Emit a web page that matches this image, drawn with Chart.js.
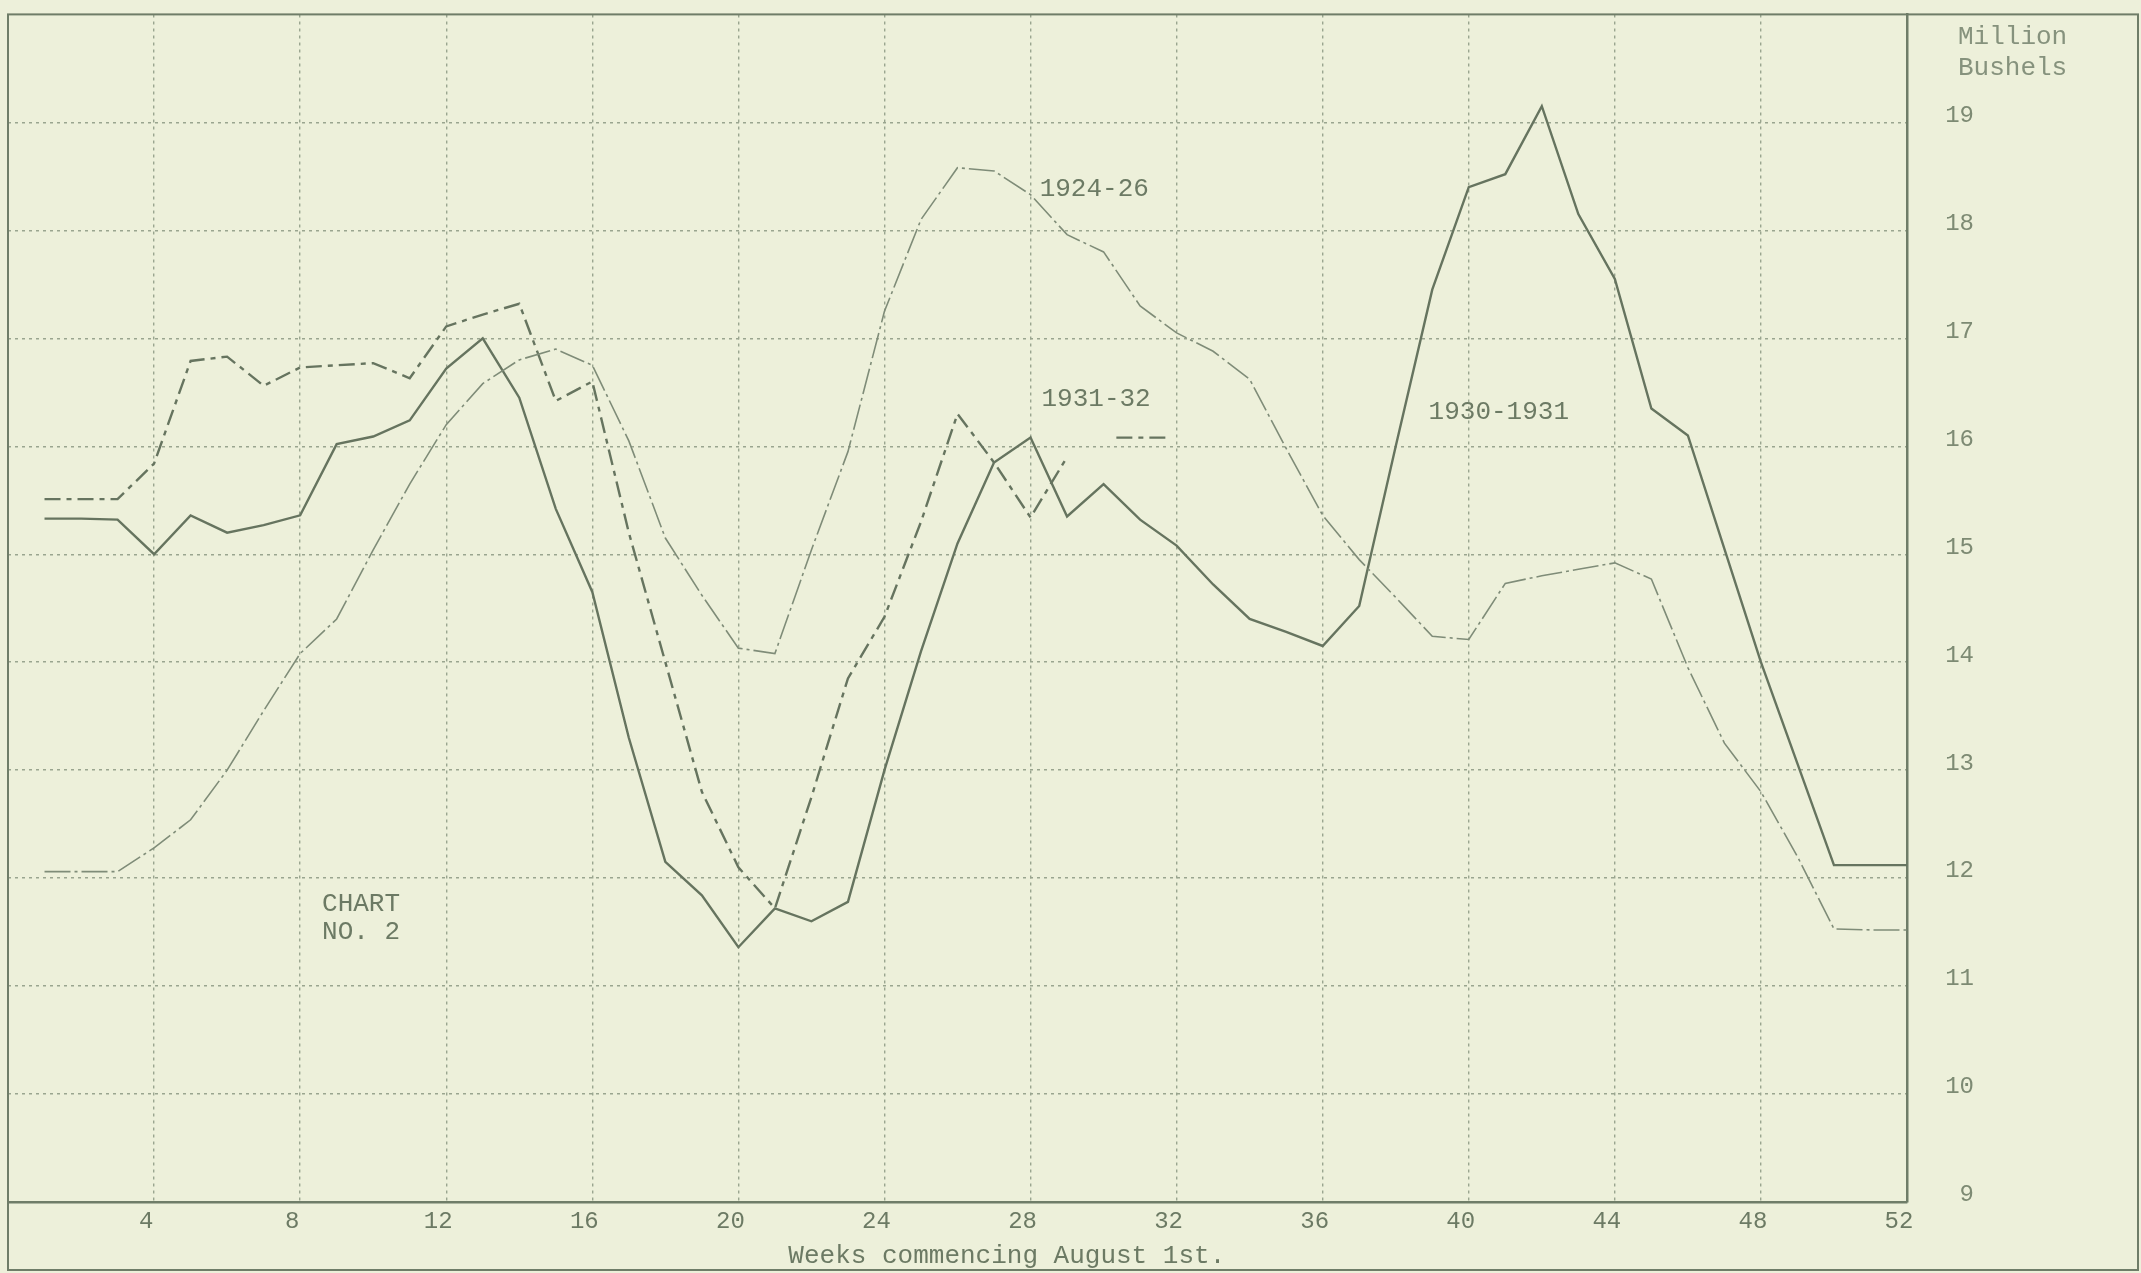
<!DOCTYPE html>
<html>
<head>
<meta charset="utf-8">
<title>Chart No. 2</title>
<script src="https://cdn.jsdelivr.net/npm/chart.js@4/dist/chart.umd.min.js"></script>
<style>
    html, body { margin: 0; padding: 0; background: #edf0da; }
    #wrap { width: 2141px; height: 1273px; }
</style>
</head>
<body>
<div id="wrap"><canvas id="bushelsChart" width="2141" height="1273"></canvas></div>
<script>
const weeks = [1, 2, 3, 4, 5, 6, 7, 8, 9, 10, 11, 12, 13, 14, 15, 16, 17, 18, 19, 20, 21, 22, 23, 24, 25, 26,
    27, 28, 29, 30, 31, 32, 33, 34, 35, 36, 37, 38, 39, 40, 41, 42, 43, 44, 45, 46, 47, 48, 49, 50, 51, 52];

const weekTicks = [4, 8, 12, 16, 20, 24, 28, 32, 36, 40, 44, 48, 52];
const bushelTicks = [9, 10, 11, 12, 13, 14, 15, 16, 17, 18, 19];

// million bushels, week by week
const avg1924to26 = [12.06, 12.06, 12.06, 12.28, 12.54, 13.0, 13.55, 14.08, 14.4, 15.04, 15.65, 16.2, 16.58,
    16.8, 16.9, 16.75, 16.05, 15.15, 14.62, 14.13, 14.08, 15.04, 15.95, 17.25, 18.1, 18.58, 18.55, 18.33,
    17.96, 17.8, 17.3, 17.05, 16.88, 16.62, 15.98, 15.36, 14.95, 14.6, 14.24, 14.21, 14.73, 14.8, 14.86,
    14.92, 14.77, 13.95, 13.25, 12.8, 12.2, 11.53, 11.52, 11.52];

const year1930to31 = [15.33, 15.33, 15.32, 15.0, 15.36, 15.2, 15.27, 15.36, 16.02, 16.09, 16.24, 16.72, 17.0,
    16.45, 15.42, 14.65, 13.3, 12.15, 11.84, 11.36, 11.72, 11.6, 11.78, 13.0, 14.1, 15.1, 15.85, 16.08,
    15.35, 15.65, 15.32, 15.08, 14.72, 14.4, 14.28, 14.15, 14.52, 16.0, 17.45, 18.4, 18.52, 19.15, 18.15,
    17.55, 16.35, 16.1, 15.05, 14.0, 13.06, 12.12, 12.12, 12.12];

const year1931to32 = [15.51, 15.51, 15.51, 15.84, 16.79, 16.83, 16.56, 16.73, 16.75, 16.77, 16.63, 17.11,
    17.22, 17.32, 16.42, 16.6, 15.2, 14.0, 12.8, 12.1, 11.72, 12.75, 13.85, 14.42, 15.3, 16.3, 15.85, 15.34,
    15.9];

const typewriter = "'Liberation Mono', 'DejaVu Sans Mono', monospace";
const ink = "#6c7a64";
const paper = "#edf0da";
const gridInk = "#9aa58f";
const frameInk = "#6f7d68";
const dash1931 = [16, 6, 5, 6];

function toPoints(values) {
    return weeks.map((w, i) => ({ x: w, y: values[i] ?? null }));
}

const paperNotes = {
    id: "paperNotes",
    beforeDraw(chart) {
        const ctx = chart.ctx;
        ctx.save();
        ctx.fillStyle = paper;
        ctx.fillRect(0, 0, chart.width, chart.height);
        ctx.restore();
    },
    afterDraw(chart) {
        const { ctx, chartArea: area, scales: { x, y } } = chart;
        ctx.save();

        ctx.strokeStyle = frameInk;
        ctx.lineWidth = 2;
        ctx.strokeRect(area.left, area.top, chart.width - 3 - area.left, chart.height - 3 - area.top);

        ctx.fillStyle = ink;
        ctx.textBaseline = "middle";
        ctx.font = "26px " + typewriter;
        ctx.fillText("1924-26", x.getPixelForValue(28.25), y.getPixelForValue(18.38));
        ctx.fillText("1931-32", x.getPixelForValue(28.3), y.getPixelForValue(16.44));
        ctx.fillText("1930-1931", x.getPixelForValue(38.9), y.getPixelForValue(16.32));
        ctx.fillText("CHART", x.getPixelForValue(8.6), y.getPixelForValue(11.76));
        ctx.fillText("NO. 2", x.getPixelForValue(8.6), y.getPixelForValue(11.5));

        // key stroke for 1931-32
        ctx.strokeStyle = "#66745f";
        ctx.lineWidth = 2.4;
        ctx.setLineDash(dash1931);
        ctx.beginPath();
        ctx.moveTo(x.getPixelForValue(30.35), y.getPixelForValue(16.08));
        ctx.lineTo(x.getPixelForValue(31.85), y.getPixelForValue(16.08));
        ctx.stroke();
        ctx.setLineDash([]);

        ctx.fillStyle = "#86927d";
        ctx.fillText("Million", area.right + 51, 37);
        ctx.fillText("Bushels", area.right + 51, 68);

        ctx.fillStyle = ink;
        ctx.textAlign = "center";
        ctx.fillText("Weeks commencing August 1st.", x.getPixelForValue(27.35), area.bottom + 54);
        ctx.restore();
    }
};

new Chart(document.getElementById("bushelsChart"), {
    type: "line",
    data: {
        datasets: [{
            label: "1924-26",
            data: toPoints(avg1924to26),
            borderColor: "#7f8c78",
            borderWidth: 1.6,
            borderDash: [26, 4, 3, 4]
        }, {
            label: "1930-1931",
            data: toPoints(year1930to31),
            borderColor: "#66745f",
            borderWidth: 2.4
        }, {
            label: "1931-32",
            data: toPoints(year1931to32),
            borderColor: "#66745f",
            borderWidth: 2.4,
            borderDash: dash1931
        }]
    },
    options: {
        responsive: false,
        animation: false,
        spanGaps: false,
        elements: {
            point: { radius: 0, hoverRadius: 0 },
            line: { tension: 0 }
        },
        layout: { padding: { left: 8, top: 7, right: 167, bottom: 0 } },
        plugins: {
            legend: { display: false },
            tooltip: { enabled: false }
        },
        scales: {
            x: {
                type: "linear",
                min: 0,
                max: 52,
                afterFit: scale => { scale.height = 71; },
                ticks: {
                    stepSize: 4,
                    autoSkip: false,
                    maxRotation: 0,
                    padding: 5,
                    labelOffset: -8,
                    color: ink,
                    font: { family: typewriter, size: 24 },
                    callback: value => weekTicks.includes(value) ? value : null
                },
                grid: { color: gridInk, lineWidth: 1.4, drawTicks: false },
                border: { color: frameInk, width: 2.5, dash: [3, 4] }
            },
            y: {
                position: "right",
                min: 9,
                max: 20,
                afterFit: scale => { scale.width = 67; },
                ticks: {
                    stepSize: 1,
                    crossAlign: "far",
                    padding: 0,
                    labelOffset: -7,
                    color: "#7d8a73",
                    font: { family: typewriter, size: 24 },
                    callback: value => bushelTicks.includes(value) ? value : null
                },
                grid: { color: gridInk, lineWidth: 1.4, drawTicks: false },
                border: { color: frameInk, width: 2.5, dash: [3, 4] }
            }
        }
    },
    plugins: [paperNotes]
});
</script>
</body>
</html>
